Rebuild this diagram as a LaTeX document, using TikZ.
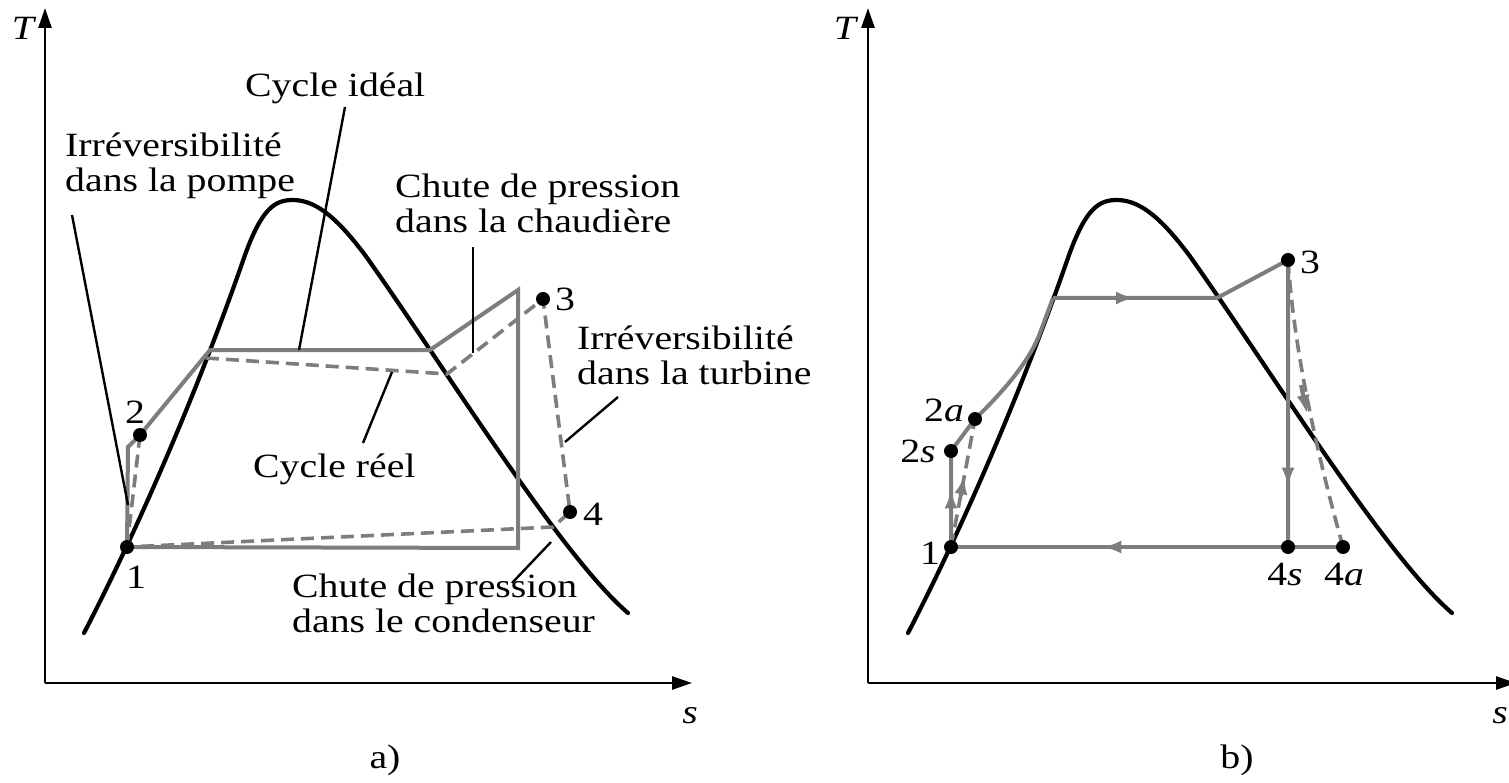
\documentclass[tikz,border=0pt]{standalone}
\usepackage{fontspec}
\setmainfont{Liberation Serif}[FakeStretch=1.17]
\usetikzlibrary{arrows.meta,calc}
\definecolor{cgray}{RGB}{125,125,125}
\begin{document}
\begin{tikzpicture}[x=1pt,y=-1pt,
  dome/.style={line width=4.2pt, black, line cap=round},
  cyc/.style={line width=4pt, draw=cgray, line join=miter},
  real/.style={line width=3.6pt, draw=cgray, dash pattern=on 13pt off 7pt},
  axis/.style={line width=2.6pt, -{Triangle[length=20pt,width=13pt]}},
  lead/.style={line width=2.4pt},
  lbl/.style={font=\fontsize{34}{35}\selectfont, inner sep=0pt},
  txt/.style={lbl, align=left, anchor=north west},
  dot/.style={circle, fill=black, inner sep=0pt, minimum size=14pt},
  marrow/.style={-{Latex[length=19pt,width=13pt]}, draw=cgray, fill=cgray, line width=4pt},
  domecurve/.pic={\draw[dome] (84,633) .. controls (140,525) and (200,385) .. (245,255)
      .. controls (262,208) and (275,200) .. (293,200)
      .. controls (318,200) and (340,222) .. (365,255)
      .. controls (440,360) and (560,555) .. (628,613);}
]
\useasboundingbox (0,0) rectangle (1509,783);

% ================= Panel a =================
\coordinate (aO) at (45,683);
\coordinate (aTy) at (45,8);
\coordinate (aSx) at (692,683);
\draw[axis] (aO) -- (aTy);
\draw[axis] (aO) -- (aSx);
\node[lbl] (aT) at (24,28) {\textit{T}};
\node[lbl] (aS) at (690,716) {\textit{s}};
\node[lbl] (acap) at (385,760) {a)};

\pic at (0,0) {domecurve};

% cycle points
\coordinate (a1) at (127,547);
\coordinate (a2) at (140,435);
\coordinate (a3) at (543,299);
\coordinate (a4) at (570,512);
\coordinate (ap) at (128,447);
\coordinate (af) at (210,350);
\coordinate (ag) at (430,350);
\coordinate (ah) at (518,290);
\coordinate (ai) at (518,548);
\coordinate (rf) at (206,358);
\coordinate (rg) at (447,374);
\coordinate (rc) at (553,527);

% ideal cycle
\draw[cyc] (a1) -- (ap) -- (a2) -- (af) -- (ag) -- (ah) -- (ai) -- cycle;
% real cycle
\draw[real] (a1) -- (a2);
\draw[real] (rf) -- (rg) -- (a3) -- (a4) -- (rc) -- (a1);

% labels and leaders
\node[lbl, anchor=base west] (lidea) at (245,97) {Cycle idéal};
\coordinate (lidea1) at (345,107);
\coordinate (lidea2) at (299,350);
\draw[lead] (lidea1) -- (lidea2);

\node[txt] (lpomp) at (65,133) {Irréversibilité\\dans la pompe};
\coordinate (lpomp1) at (72,215);
\coordinate (lpomp2) at (128,505);
\draw[lead] (lpomp1) -- (lpomp2);

\node[txt] (lchau) at (395,174) {Chute de pression\\dans la chaudière};
\coordinate (lchau1) at (473,247);
\coordinate (lchau2) at (473,353);
\draw[lead] (lchau1) -- (lchau2);

\node[txt] (lturb) at (577,326) {Irréversibilité\\dans la turbine};
\coordinate (lturb1) at (618,397);
\coordinate (lturb2) at (565,442);
\draw[lead] (lturb1) -- (lturb2);

\node[lbl, anchor=base west] (lreel) at (253,477) {Cycle réel};
\coordinate (lreel1) at (392,372);
\coordinate (lreel2) at (363,443);
\draw[lead] (lreel1) -- (lreel2);

\node[txt] (lcond) at (292,574) {Chute de pression\\dans le condenseur};
\coordinate (lcond1) at (551,542);
\coordinate (lcond2) at (512,583);
\draw[lead] (lcond1) -- (lcond2);

\node[dot] (d1) at (a1) {};
\node[dot] (d2) at (a2) {};
\node[dot] (d3) at (a3) {};
\node[dot] (d4) at (a4) {};
\node[lbl] (n1) at (136,577) {1};
\node[lbl] (n2) at (135,412) {2};
\node[lbl] (n3) at (565,299) {3};
\node[lbl] (n4) at (593,514) {4};

% ================= Panel b =================
\coordinate (bO) at (868,683);
\coordinate (bTy) at (868,8);
\coordinate (bSx) at (1516,683);
\draw[axis] (bO) -- (bTy);
\draw[axis] (bO) -- (bSx);
\node[lbl] (bT) at (846,28) {\textit{T}};
\node[lbl] (bS) at (1500,716) {\textit{s}};
\node[lbl] (bcap) at (1237,760) {b)};

\pic at (824,0) {domecurve};

\coordinate (b1) at (951,547);
\coordinate (b2s) at (951,451);
\coordinate (b2a) at (975,419);
\coordinate (b3) at (1288,260);
\coordinate (b4s) at (1288,547);
\coordinate (b4a) at (1343,547);
\coordinate (bh1) at (1053,298);
\coordinate (bh2) at (1217,298);

\draw[cyc] (b1) -- (b2s) -- (b2a);
\draw[cyc] (975,419) .. controls (1005,390) and (1030,360) .. (1040,333) -- (bh1);
\draw[cyc] (bh1) -- (bh2) -- (b3) -- (b4s);
\draw[cyc] (b4a) -- (b1);
\draw[real] (b1) -- (b2a);
\draw[real] (b3) .. controls (1294,350) and (1316,450) .. (b4a);

% flow arrows
\draw[marrow] (b1) -- ($(b1)!0.6!(b2s)$);
\draw[marrow] (bh1) -- ($(bh1)!0.5!(bh2)$);
\draw[marrow] (b3) -- ($(b3)!0.79!(b4s)$);
\draw[marrow] (b4a) -- ($(b4a)!0.614!(b1)$);
\draw[marrow] ($(b1)!0.40!(b2a)$) -- ($(b1)!0.56!(b2a)$);
\coordinate (tb1) at (1301,385);
\coordinate (tb2) at (1307,414);
\draw[marrow] (tb1) -- (tb2);

\node[dot] (e1) at (b1) {};
\node[dot] (e2s) at (b2s) {};
\node[dot] (e2a) at (b2a) {};
\node[dot] (e3) at (b3) {};
\node[dot] (e4s) at (b4s) {};
\node[dot] (e4a) at (b4a) {};
\node[lbl] (m1) at (930,553) {1};
\node[lbl] (m2s) at (918,451) {2\textit{s}};
\node[lbl] (m2a) at (944,410) {2\textit{a}};
\node[lbl] (m3) at (1310,262) {3};
\node[lbl] (m4s) at (1285,574) {4\textit{s}};
\node[lbl] (m4a) at (1344,574) {4\textit{a}};
\end{tikzpicture}
\end{document}
